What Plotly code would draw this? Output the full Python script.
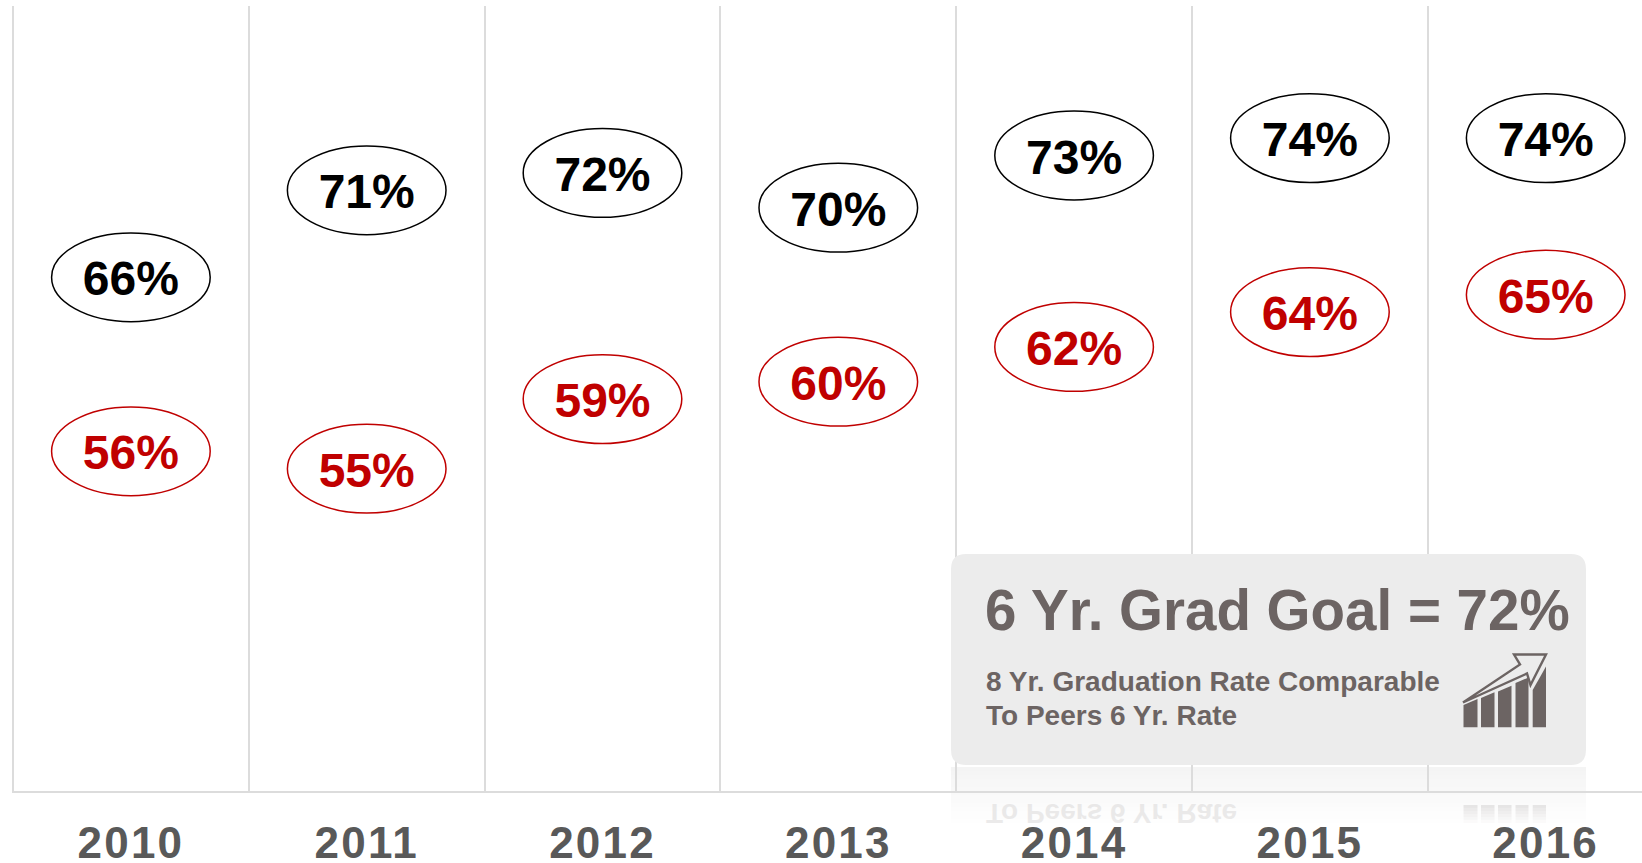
import plotly.graph_objects as go

years = ["2010", "2011", "2012", "2013", "2014", "2015", "2016"]
six_year = [66, 71, 72, 70, 73, 74, 74]
peers = [56, 55, 59, 60, 62, 64, 65]
panel_title = "6 Yr. Grad Goal = 72%"
panel_lines = ["8 Yr. Graduation Rate Comparable", "To Peers 6 Yr. Rate"]

W, H = 1642, 863
L, R, T, B = 14, 0, 6, 72
PW, PH = W - L - R, H - T - B
BLACK, RED = "#000000", "#c00000"
GRID = "#dcdcdc"
PANEL_TEXT = "#6c6463"
FONT = "Liberation Sans"
STEP = 235.8
PX_PER_PCT = 17.4
TEXT_DROP = 6.0


def fx(px):
    return (px - L) / PW


def fy(py):
    return 1 - (py - T) / PH


def path(points):
    return "M" + "L".join(f"{fx(x):.5f},{fy(y):.5f}" for x, y in points) + "Z"


def rounded(x0, y0, x1, y1, r):
    a, b, c, d = fx(x0), fy(y0), fx(x1), fy(y1)
    rx, ry = r / PW, r / PH
    return (f"M{a+rx:.5f},{b:.5f}L{c-rx:.5f},{b:.5f}Q{c:.5f},{b:.5f} {c:.5f},{b-ry:.5f}"
            f"L{c:.5f},{d+ry:.5f}Q{c:.5f},{d:.5f} {c-rx:.5f},{d:.5f}"
            f"L{a+rx:.5f},{d:.5f}Q{a:.5f},{d:.5f} {a:.5f},{d+ry:.5f}"
            f"L{a:.5f},{b-ry:.5f}Q{a:.5f},{b:.5f} {a+rx:.5f},{b:.5f}Z")


fig = go.Figure()
for vals, col in ((six_year, BLACK), (peers, RED)):
    fig.add_trace(go.Scatter(
        x=years, y=vals, yaxis="y2", mode="text", text=[f"{v}%" for v in vals],
        textposition="middle center", cliponaxis=False, showlegend=False,
        hoverinfo="skip", textfont=dict(family=FONT, size=48, color=col, weight=700),
    ))

shapes = []
for vals, col in ((six_year, BLACK), (peers, RED)):
    for i, v in enumerate(vals):
        shapes.append(dict(
            type="circle", xref="x", yref="y", xsizemode="pixel", ysizemode="pixel",
            xanchor=i, yanchor=v, x0=-79.3, x1=79.3, y0=-44.4, y1=44.4,
            line=dict(color=col, width=1.5), fillcolor="rgba(0,0,0,0)", layer="above",
        ))

# reflection of the panel, fading out
n = 14
for i in range(n):
    y0 = 767 + i * 4
    shapes.append(dict(
        type="path", xref="paper", yref="paper",
        path=path([(951, y0), (1586, y0), (1586, y0 + 4), (951, y0 + 4)]),
        fillcolor=f"rgba(225,225,225,{0.36 * (1 - i / n):.3f})", line_width=0, layer="below",
    ))

# panel
shapes.append(dict(
    type="path", xref="paper", yref="paper", path=rounded(951, 554, 1586, 765, 15),
    fillcolor="#ececec", line_width=0, layer="above",
))

# icon
bars = [(1463.5, 1477.5, 705), (1481, 1494.5, 698), (1498, 1511.5, 691.5), (1515.5, 1528.5, 683)]
for x0, x1, top in bars:
    shapes.append(dict(
        type="path", xref="paper", yref="paper",
        path=path([(x0, top), (x1, top - (x1 - x0) * 0.42), (x1, 727.3), (x0, 727.3)]),
        fillcolor=PANEL_TEXT, line_width=0, layer="above",
    ))
shapes.append(dict(
    type="path", xref="paper", yref="paper",
    path=path([(1532.7, 690), (1546, 666.5), (1546, 727.3), (1532.7, 727.3)]),
    fillcolor=PANEL_TEXT, line_width=0, layer="above",
))
shapes.append(dict(
    type="path", xref="paper", yref="paper",
    path=path([(1463, 702.5), (1520, 664.5), (1514, 654.5), (1546, 654.5), (1530.5, 685), (1527, 673.5)]),
    fillcolor="rgba(0,0,0,0)", line=dict(color=PANEL_TEXT, width=2.4), layer="above",
))
# faint reflected bars
for x0, x1 in [(1463.5, 1477.5), (1481, 1494.5), (1498, 1511.5), (1515.5, 1528.5), (1532.7, 1546)]:
    for k in range(6):
        shapes.append(dict(
            type="path", xref="paper", yref="paper",
            path=path([(x0, 805 + k * 3), (x1, 805 + k * 3), (x1, 808 + k * 3), (x0, 808 + k * 3)]),
            fillcolor=f"rgba(108,100,99,{0.14 * (1 - k / 6):.3f})", line_width=0, layer="below",
        ))

annotations = [
    dict(x=fx(982.5), y=fy(610.5), xref="paper", yref="paper", text=panel_title, showarrow=False,
         xanchor="left", yanchor="middle", font=dict(family=FONT, size=56.5, color=PANEL_TEXT, weight=700)),
    dict(x=fx(983.5), y=fy(681.5), xref="paper", yref="paper", text=panel_lines[0], showarrow=False,
         xanchor="left", yanchor="middle", font=dict(family=FONT, size=28, color=PANEL_TEXT, weight=700)),
    dict(x=fx(983.5), y=fy(715), xref="paper", yref="paper", text=panel_lines[1], showarrow=False,
         xanchor="left", yanchor="middle", font=dict(family=FONT, size=28, color=PANEL_TEXT, weight=700)),
    dict(x=fx(983.5), y=fy(813), xref="paper", yref="paper", text=panel_lines[1], showarrow=False,
         xanchor="left", yanchor="middle", opacity=0.12,
         font=dict(family=FONT, size=28, color=PANEL_TEXT, weight=700)),
]

y_lo = 66 - (H - B - 277.3) / PX_PER_PCT
y_hi = 66 + (277.3 - T) / PX_PER_PCT

fig.update_layout(
    width=W, height=H, margin=dict(l=L, r=R, t=T, b=B, autoexpand=False),
    paper_bgcolor="#ffffff", plot_bgcolor="#ffffff", showlegend=False,
    shapes=shapes, annotations=annotations,
    xaxis=dict(
        type="category", categoryorder="array", categoryarray=years,
        range=[-0.5 + 1 / STEP, -0.5 + (PW + 1) / STEP], tickson="boundaries",
        showgrid=True, gridcolor=GRID, gridwidth=1.5, zeroline=False,
        showline=True, linecolor=GRID, linewidth=2,
        ticks="", ticklabelstandoff=12,
        tickfont=dict(family=FONT, size=44, color="#595959", weight=700),
        fixedrange=True,
    ),
    yaxis=dict(
        range=[y_lo, y_hi],
        showgrid=False, zeroline=False, showticklabels=False, ticks="",
        showline=True, linecolor=GRID, linewidth=2, fixedrange=True,
    ),
    yaxis2=dict(
        overlaying="y", visible=False, fixedrange=True,
        range=[y_lo + TEXT_DROP / PX_PER_PCT, y_hi + TEXT_DROP / PX_PER_PCT],
    ),
)

post = """
document.body.style.margin='0';
document.querySelectorAll('.xtick text').forEach(function(t){t.style.letterSpacing='2.2px';});
var ann=document.querySelectorAll('.annotation-text');
var r=ann[ann.length-1];
var b=r.getBBox();
r.setAttribute('transform','translate(0,'+(2*(b.y+b.height/2))+') scale(1,-1)');
"""
fig.write_html("out.html", config=dict(displayModeBar=False), post_script=post)
